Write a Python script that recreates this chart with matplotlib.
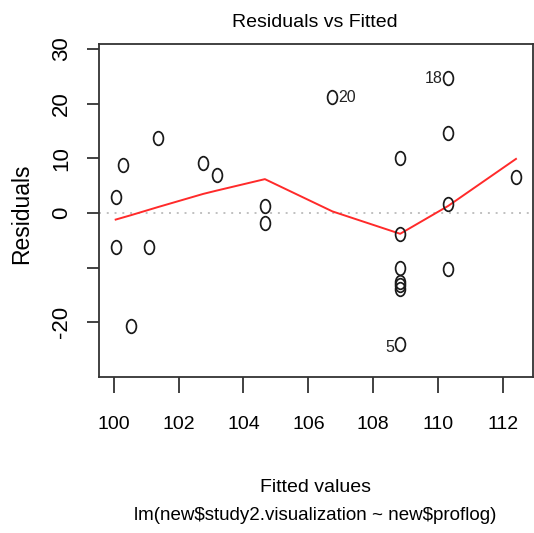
import matplotlib
matplotlib.use("Agg")
import matplotlib.pyplot as plt
import numpy as np
from matplotlib.path import Path
from matplotlib.transforms import Affine2D

# fitted values and residuals from the linear model
fitted = [100.06, 100.06, 100.30, 100.53, 101.09, 101.37, 102.76, 103.17,
          104.66, 104.66, 106.74, 108.83, 108.83, 108.83, 108.83, 108.83,
          108.83, 108.83, 110.31, 110.31, 110.31, 110.31, 112.40]
resid = [2.9, -6.2, 8.7, -20.6, -6.2, 13.7, 9.2, 6.9,
         1.3, -1.8, 21.2, 10.1, -3.9, -10.0, -12.6, -13.2,
         -13.9, -23.9, 24.7, 14.6, 1.6, -10.3, 6.6]

# smoother through the residuals
smooth_x = [100.06, 100.53, 101.37, 102.76, 103.17, 104.66, 106.74, 108.83, 110.31, 112.40]
smooth_y = [-1.2, -0.4, 1.1, 3.5, 4.1, 6.2, 0.3, -3.8, 1.3, 9.9]

# observations flagged with their index
flag_idx = [10, 17, 18]
flag_lab = ["20", "5", "18"]
flag_side = ["right", "left", "left"]

xticks = [100, 102, 104, 106, 108, 110, 112]
yticks = [30, 20, 10, 0, -10, -20]
ytick_labels = ["30", "20", "10", "0", "", "-20"]

fam = ["Liberation Sans", "DejaVu Sans"]

fig = plt.figure(figsize=(5.34, 5.33), dpi=100)
ax = fig.add_axes([0.186, 0.2932, 0.8116, 0.6236])

# open circles squeezed sideways
ring = Path.unit_circle().transformed(Affine2D().scale(0.72, 1.0))

ax.axhline(0, color="#c0c0c0", lw=1.4, ls=(0, (1, 3)), zorder=1)
ax.plot(fitted, resid, ls="none", marker=ring, ms=9.8, mfc="none",
        mec="#1a1a1a", mew=1.25, zorder=3)
ax.plot(smooth_x, smooth_y, color="#ff2a2a", lw=1.4, zorder=2)

for i, lab, side in zip(flag_idx, flag_lab, flag_side):
    dx = 4 if side == "right" else -4
    dy = 0 if lab != "5" else -3
    ax.annotate(lab, (fitted[i], resid[i]), xytext=(dx, dy), textcoords="offset points",
                ha="left" if side == "right" else "right", va="center",
                fontsize=11.5, family=fam, color="#222222")

ax.set_xlim(99.556, 112.916)
ax.set_ylim(-29.95, 30.86)

ax.set_xticks(xticks)
ax.set_xticklabels([str(t) for t in xticks], family=fam, fontsize=14)
ax.set_yticks(yticks)
ax.set_yticklabels(ytick_labels, family=fam, fontsize=16, rotation=90, va="center")
ax.tick_params(axis="x", length=11.5, width=1.3, pad=16.5, color="#333333")
ax.tick_params(axis="y", length=8.6, width=1.3, pad=11, color="#333333")

for s in ax.spines.values():
    s.set_linewidth(1.3)
    s.set_color("#333333")

ax.set_ylabel("Residuals", family=fam, fontsize=16.5)
ax.yaxis.set_label_coords(-0.152, 0.49)

fig.text(0.59, 1 - 22.5 / 533, "Residuals vs Fitted", ha="center", va="center",
         family=fam, fontsize=14)
fig.text(0.59, 1 - 487 / 533, "Fitted values", ha="center", va="center",
         family=fam, fontsize=14)
fig.text(0.59, 1 - 516 / 533, r"lm(new\$study2.visualization ~ new\$proflog)",
         ha="center", va="center", family=fam, fontsize=13.5)

fig.savefig("out.png", dpi=100)
